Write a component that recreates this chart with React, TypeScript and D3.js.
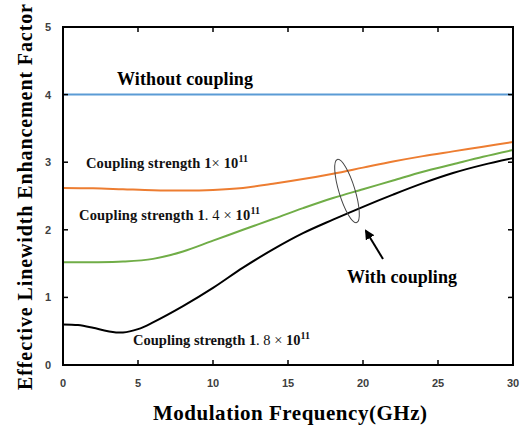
import React from "react";
import * as d3 from "d3";

const xTicks = [0, 5, 10, 15, 20, 25, 30];
const yTicks = [0, 1, 2, 3, 4, 5];

const freqOrange = [0, 2, 4, 6, 8, 10, 12, 14, 16, 18, 20, 22, 24, 26, 28, 30];
const valOrange = [2.62, 2.615, 2.6, 2.585, 2.58, 2.59, 2.62, 2.68, 2.75, 2.83, 2.92, 3.01, 3.09, 3.16, 3.23, 3.3];

const freqGreen = [0, 2, 4, 6, 8, 10, 12, 14, 16, 18, 20, 22, 24, 26, 28, 30];
const valGreen = [1.52, 1.52, 1.53, 1.57, 1.68, 1.84, 2.0, 2.16, 2.32, 2.47, 2.6, 2.73, 2.86, 2.97, 3.08, 3.18];

const freqBlack = [0, 1, 2, 3, 4, 5, 6, 8, 10, 12, 14, 16, 18, 20, 22, 24, 26, 28, 30];
const valBlack = [0.6, 0.59, 0.55, 0.5, 0.48, 0.53, 0.63, 0.87, 1.14, 1.44, 1.71, 1.95, 2.15, 2.34, 2.52, 2.69, 2.84, 2.96, 3.06];

const freqBlue = [0, 30];
const valBlue = [4, 4];

const W = 525, H = 430;
const L = 63, R = 513, T = 27, B = 365;

export default function App() {
  const x = d3.scaleLinear().domain([0, 30]).range([L, R]);
  const y = d3.scaleLinear().domain([0, 5]).range([B, T]);
  const line = d3
    .line<[number, number]>()
    .x((d) => x(d[0]))
    .y((d) => y(d[1]))
    .curve(d3.curveCatmullRom.alpha(0.5));
  const mk = (xs: number[], ys: number[]) => line(xs.map((v, i) => [v, ys[i]] as [number, number])) || "";

  const serif = "'Liberation Serif', 'Times New Roman', serif";
  const sans = "'Liberation Sans', Arial, sans-serif";

  const label = (prefix: string, a: string, b: string, xPos: number, yPos: number, len: number) => (
    <text x={xPos} y={yPos} fontFamily={serif} fontWeight="bold" fontSize={14.5} fill="#111" textLength={len} lengthAdjust="spacing">
      {prefix}
      <tspan fontWeight="normal">{a}</tspan>
      {b}
      <tspan dy={-6} fontSize={10}>11</tspan>
    </text>
  );

  return (
    <svg width={W} height={H} style={{ position: "absolute", left: 0, top: 0, background: "#fff" }}>
      <defs>
        <marker id="ah" viewBox="0 0 10 10" refX="8" refY="5" markerWidth="5" markerHeight="5" orient="auto">
          <path d="M0,0 L10,5 L0,10 z" fill="#000" />
        </marker>
      </defs>
      {/* curves */}
      <path d={mk(freqBlue, valBlue)} fill="none" stroke="#5B9BD5" strokeWidth={2} />
      <path d={mk(freqOrange, valOrange)} fill="none" stroke="#ED7D31" strokeWidth={2} />
      <path d={mk(freqGreen, valGreen)} fill="none" stroke="#70AD47" strokeWidth={2} />
      <path d={mk(freqBlack, valBlack)} fill="none" stroke="#000" strokeWidth={2} />

      {/* frame */}
      <rect x={L} y={T} width={R - L} height={B - T} fill="none" stroke="#000" strokeWidth={2} />
      {xTicks.map((t) => (
        <g key={"x" + t}>
          <line x1={x(t)} x2={x(t)} y1={B} y2={B - 5} stroke="#000" strokeWidth={1.5} />
          <line x1={x(t)} x2={x(t)} y1={T} y2={T + 5} stroke="#000" strokeWidth={1.5} />
          <text x={x(t)} y={387} textAnchor="middle" fontFamily={sans} fontWeight="bold" fontSize={11} fill="#404040">
            {t}
          </text>
        </g>
      ))}
      {yTicks.map((t) => (
        <g key={"y" + t}>
          <line x1={L} x2={L + 5} y1={y(t)} y2={y(t)} stroke="#000" strokeWidth={1.5} />
          <line x1={R} x2={R - 5} y1={y(t)} y2={y(t)} stroke="#000" strokeWidth={1.5} />
          <text x={48} y={y(t) + 4} textAnchor="middle" fontFamily={sans} fontWeight="bold" fontSize={11} fill="#404040">
            {t}
          </text>
        </g>
      ))}

      {/* axis titles */}
      <text x={153} y={420} fontFamily={serif} fontWeight="bold" fontSize={21} fill="#000" textLength={274} lengthAdjust="spacing">
        Modulation Frequency(GHz)
      </text>
      <text
        transform="translate(32,390) rotate(-90)"
        fontFamily={serif}
        fontWeight="bold"
        fontSize={20}
        fill="#000"
        textLength={386}
        lengthAdjust="spacing"
      >
        Effective Linewidth Enhancement Factor
      </text>

      {/* annotations */}
      <text x={117} y={85} fontFamily={serif} fontWeight="bold" fontSize={18} fill="#000" textLength={136} lengthAdjust="spacing">
        Without coupling
      </text>
      {label("Coupling strength 1", "× ", "10", 86, 168, 162)}
      {label("Coupling strength 1", ". 4 × ", "10", 79, 220, 181)}
      {label("Coupling strength 1", ". 8 × ", "10", 133, 345, 177)}
      <text x={347} y={283} fontFamily={serif} fontWeight="bold" fontSize={18} fill="#000" textLength={110} lengthAdjust="spacing">
        With coupling
      </text>
      <ellipse
        cx={347}
        cy={191}
        rx={8}
        ry={33}
        transform="rotate(-17 347 191)"
        fill="none"
        stroke="#444"
        strokeWidth={1}
      />
      <line x1={383} y1={259} x2={366} y2={231} stroke="#000" strokeWidth={2} markerEnd="url(#ah)" />
    </svg>
  );
}
